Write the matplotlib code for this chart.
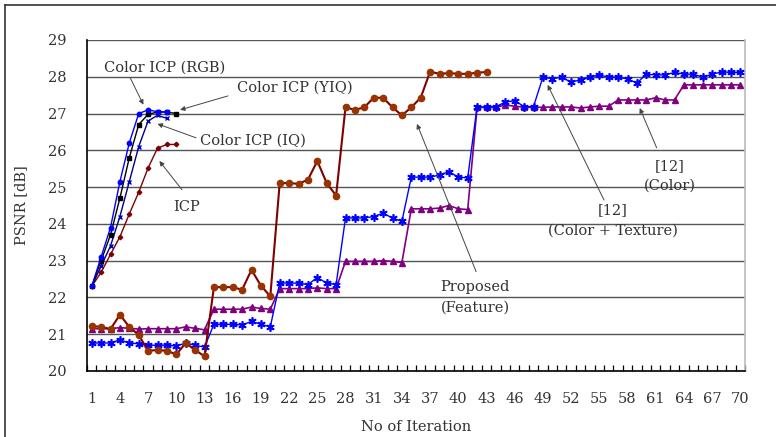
import numpy as np
import matplotlib.pyplot as plt
from matplotlib.lines import Line2D

plt.rcParams['font.family'] = ['DejaVu Serif']

# PSNR per iteration for each registration method
icp_rgb = [22.3, 23.1, 23.9, 25.15, 26.2, 27.0, 27.1, 27.05, 27.05]
icp_yiq = [22.3, 23.0, 23.7, 24.7, 25.8, 26.7, 26.98, 27.04, 27.04, 27.0]
icp_iq = [22.3, 22.85, 23.4, 24.2, 25.15, 26.1, 26.8, 26.95, 26.87]
icp = [22.3, 22.68, 23.17, 23.65, 24.27, 24.86, 25.52, 26.06, 26.16, 26.16]

proposed = [21.22, 21.2, 21.14, 21.53, 21.2, 20.98, 20.55, 20.57, 20.55, 20.45,
            20.76, 20.57, 20.4, 22.28, 22.28, 22.28, 22.21, 22.75, 22.32, 22.03,
            25.11, 25.11, 25.09, 25.2, 25.71, 25.11, 24.77, 27.17, 27.1, 27.17,
            27.43, 27.43, 27.17, 26.95, 27.17, 27.43, 28.14, 28.08, 28.1, 28.08,
            28.08, 28.11, 28.13]

ref12_ct = [20.76, 20.76, 20.76, 20.85, 20.76, 20.74, 20.7, 20.7, 20.7, 20.68,
            20.76, 20.7, 20.65, 21.27, 21.27, 21.27, 21.25, 21.35, 21.27, 21.2,
            22.39, 22.39, 22.39, 22.35, 22.54, 22.39, 22.35, 24.16, 24.16, 24.16,
            24.2, 24.29, 24.16, 24.07, 25.27, 25.27, 25.27, 25.33, 25.42, 25.27,
            25.25, 27.19, 27.17, 27.19, 27.31, 27.35, 27.19, 27.19, 27.99, 27.95,
            27.99, 27.85, 27.92, 27.99, 28.05, 27.99, 27.99, 27.94, 27.83, 28.07,
            28.05, 28.05, 28.12, 28.07, 28.07, 27.99, 28.07, 28.13, 28.12, 28.12]

ref12_color = [21.15, 21.15, 21.15, 21.18, 21.16, 21.14, 21.15, 21.15, 21.15, 21.15,
               21.2, 21.16, 21.12, 21.68, 21.68, 21.68, 21.68, 21.74, 21.7, 21.68,
               22.24, 22.24, 22.24, 22.24, 22.26, 22.24, 22.24, 22.98, 22.98, 22.98,
               22.98, 23.0, 22.98, 22.95, 24.41, 24.41, 24.41, 24.43, 24.5, 24.41,
               24.39, 27.17, 27.17, 27.17, 27.23, 27.2, 27.17, 27.17, 27.17, 27.18,
               27.18, 27.18, 27.15, 27.18, 27.2, 27.2, 27.37, 27.37, 27.37, 27.37,
               27.43, 27.37, 27.37, 27.78, 27.78, 27.78, 27.78, 27.78, 27.78, 27.78]

x_ticks = list(range(1, 71, 3))
y_ticks = list(range(20, 30))

fig = plt.figure(figsize=(7.76, 4.37), dpi=100)
ax = fig.add_axes([87 / 776, 1 - 371 / 437, (745 - 87) / 776, (371 - 40) / 437])

def it(vals):
    return np.arange(1, len(vals) + 1)

ax.plot(it(ref12_color), ref12_color, color='#800080', lw=1.2, marker='^', ms=4.5,
        mfc='#800080', mec='#800080', zorder=3)
ax.plot(it(ref12_ct), ref12_ct, color='#0000FF', lw=1.0, marker=(6, 2, 0), ms=6,
        mew=1.2, mec='#0000FF', zorder=4)
ax.plot(it(proposed), proposed, color='#800000', lw=1.5, marker='o', ms=4.5,
        mfc='#993300', mec='#993300', zorder=5)
ax.plot(it(icp), icp, color='#800000', lw=1.0, marker='D', ms=2.3,
        mfc='#800000', mec='#800000', zorder=3)
ax.plot(it(icp_iq), icp_iq, color='#000080', lw=1.0, marker='x', ms=3.5,
        mew=1.0, mec='#0000CC', zorder=3)
ax.plot(it(icp_yiq), icp_yiq, color='black', lw=1.0, marker='s', ms=2.8,
        mfc='black', mec='black', zorder=3)
ax.plot(it(icp_rgb), icp_rgb, color='#0000FF', lw=1.0, marker='o', ms=3.2,
        mfc='#0000FF', mec='#0000FF', zorder=3)

ax.set_xlim(0.5, 70.5)
ax.set_ylim(20, 29)
ax.set_yticks(y_ticks)
ax.set_xticks(x_ticks)
ax.set_xticks(np.arange(0.5, 71, 1), minor=True)
ax.tick_params(axis='x', which='major', length=0, pad=15, labelsize=10.5, colors='#333333')
ax.tick_params(axis='x', which='minor', direction='in', length=4, width=0.9, color='black')
ax.tick_params(axis='y', length=0, pad=15, labelsize=10.5, colors='#333333')
ax.grid(axis='y', color='#555555', lw=1.0, zorder=0)

for s in ['left', 'bottom']:
    ax.spines[s].set_color('black')
    ax.spines[s].set_linewidth(1.2)
ax.spines['top'].set_visible(False)
ax.spines['right'].set_color('#BBBBBB')
ax.spines['right'].set_linewidth(1.2)

ax.set_ylabel('PSNR [dB]', fontsize=10.5, color='#333333', labelpad=14)
ax.set_xlabel('No of Iteration', fontsize=10.5, color='#333333', labelpad=10)

# chart border, left and top only
fig.add_artist(Line2D([5 / 776, 5 / 776], [0, 1 - 5 / 437], color='#333333', lw=1.2))
fig.add_artist(Line2D([5 / 776, 1], [1 - 5 / 437, 1 - 5 / 437], color='#333333', lw=1.2))

arrow = dict(arrowstyle='-|>', color='#444444', lw=0.7, mutation_scale=7, shrinkA=0, shrinkB=0)
labels = [
    ('Color ICP (RGB)', (8.8, 28.24), (5.1, 27.97), (6.5, 27.24)),
    ('Color ICP (YIQ)', (22.6, 27.7), (15.5, 27.48), (10.4, 27.1)),
    ('Color ICP (IQ)', (18.2, 26.26), (12.1, 26.34), (8.0, 26.72)),
    ('ICP', (11.1, 24.47), (10.6, 24.93), (8.2, 25.71)),
    ('Proposed\n(Feature)', (41.8, 22.0), (41.9, 22.7), (35.6, 26.72)),
    ('[12]\n(Color + Texture)', (56.4, 24.1), (55.5, 24.65), (49.5, 27.78)),
    ('[12]\n(Color)', (62.5, 25.3), (61.1, 26.07), (59.3, 27.15)),
]
for txt, pos, tail, head in labels:
    ax.annotate('', xy=head, xytext=tail, arrowprops=arrow, zorder=6)
    ax.text(pos[0], pos[1], txt, ha='center', va='center', fontsize=10.5,
            color='#333333', linespacing=1.55, zorder=7)

fig.savefig('out.png', dpi=100)
